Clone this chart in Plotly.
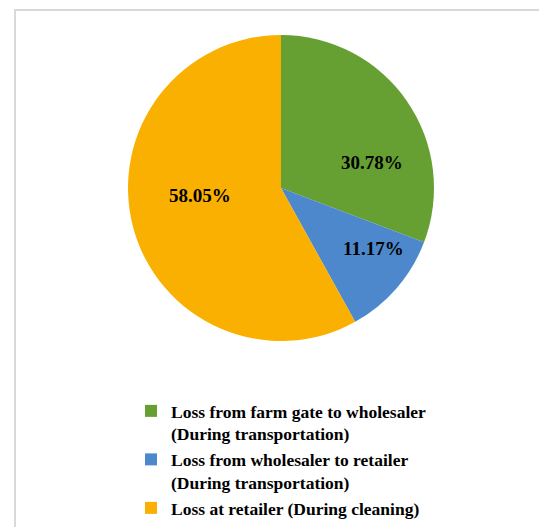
import plotly.graph_objects as go

categories = [
    "Loss from farm gate to wholesaler<br>(During transportation)",
    "Loss from wholesaler to retailer<br>(During transportation)",
    "Loss at retailer (During cleaning)",
]
values = [30.78, 11.17, 58.05]
colors = ["#66A032", "#4D88CC", "#FAB000"]

W, H = 539, 527
cx, cy, r = 281, 188, 153
# label anchor points (pixel offsets from the pie centre), as Excel placed them
label_offsets = [(91, -26), (92, 60), (-81, 7)]

fig = go.Figure(go.Pie(
    labels=categories,
    values=values,
    sort=False,
    direction="clockwise",
    rotation=0,
    marker=dict(colors=colors, line=dict(width=0)),
    textinfo="none",
    domain=dict(x=[(cx - r) / W, (cx + r) / W], y=[1 - (cy + r) / H, 1 - (cy - r) / H]),
    hoverinfo="label+percent",
))

annotations = []
for v, (dx, dy) in zip(values, label_offsets):
    annotations.append(dict(
        x=(cx + dx) / W, y=1 - (cy + dy) / H, xref="paper", yref="paper",
        text=f"{v:.2f}%", showarrow=False, xanchor="center", yanchor="middle",
        font=dict(family="Liberation Serif", size=19, color="black", weight="bold"),
    ))

fig.update_layout(
    width=W, height=H,
    margin=dict(l=0, r=0, t=0, b=0),
    paper_bgcolor="white",
    showlegend=True,
    annotations=annotations,
    legend=dict(
        x=131 / W, xanchor="left",
        y=1 / H, yanchor="bottom",
        valign="top",
        font=dict(family="Liberation Serif", size=17.5, color="black", weight="bold"),
        itemwidth=30,
        tracegroupgap=0,
        bgcolor="rgba(0,0,0,0)",
    ),
    shapes=[dict(
        type="rect", xref="paper", yref="paper",
        x0=15 / W, x1=1.05, y0=-0.05, y1=1 - 10 / H,
        line=dict(color="#D9D9D9", width=2),
    )],
)

fig.write_html("out.html")
